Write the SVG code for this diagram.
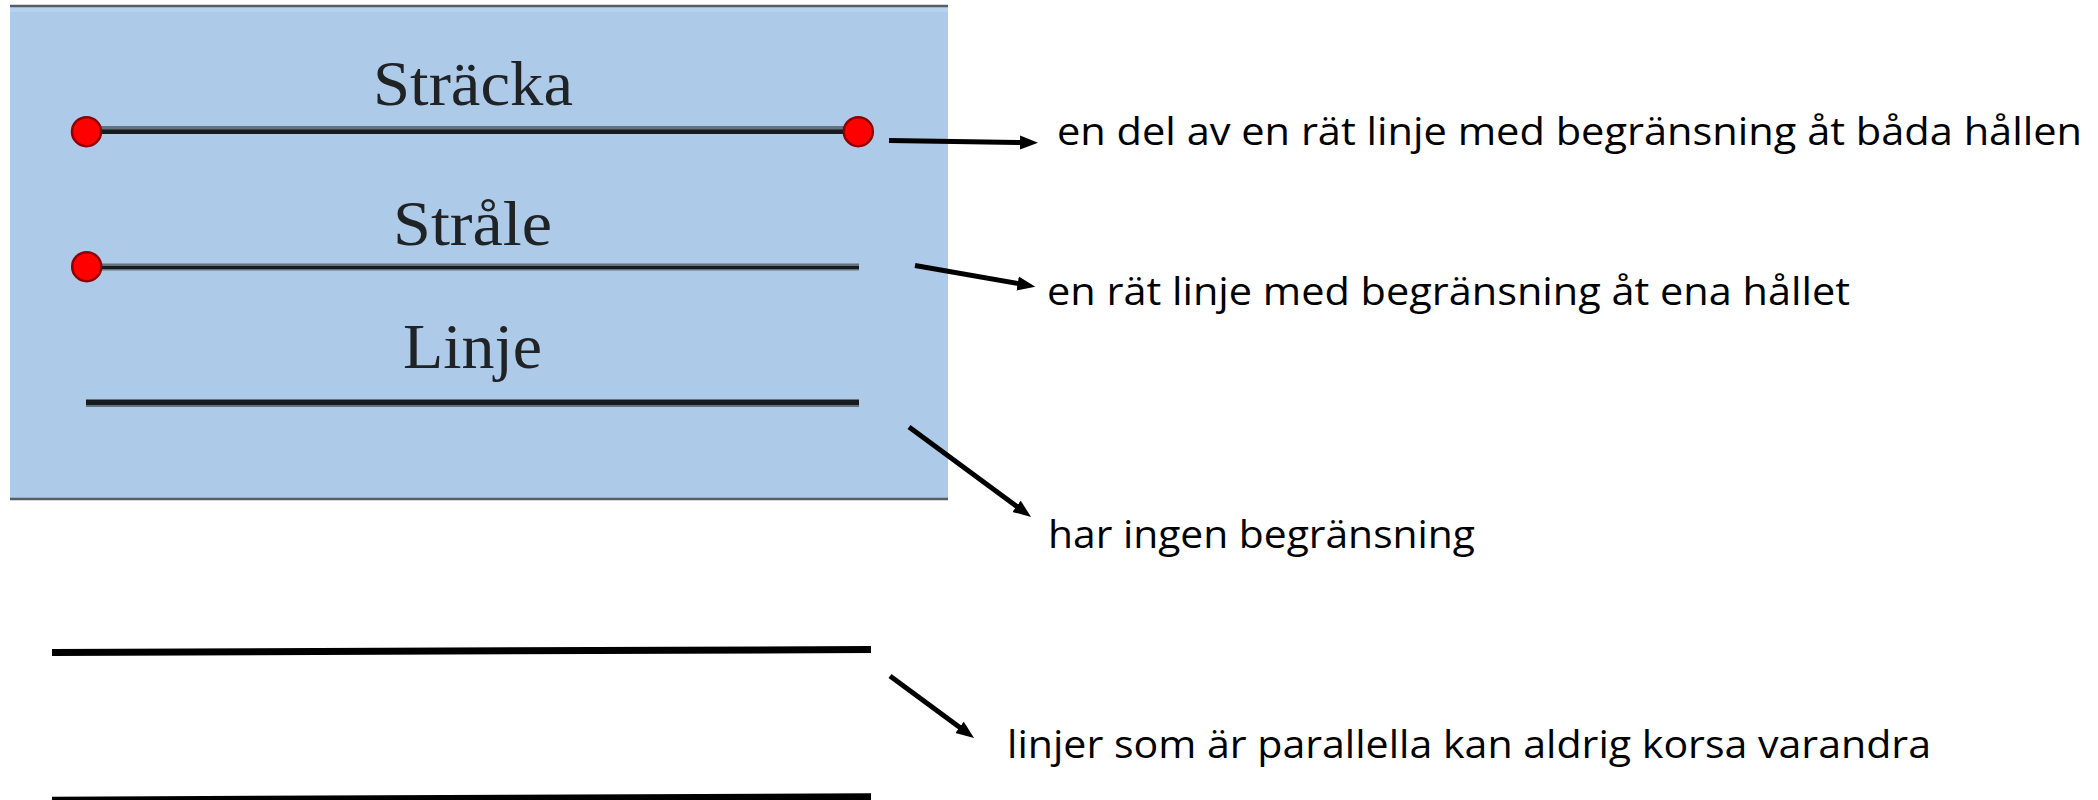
<svg xmlns="http://www.w3.org/2000/svg" width="2098" height="800" viewBox="0 0 2098 800">
  <style>
    .panel { fill: #adcbe8; }
    .edge { stroke: #595d62; stroke-width: 2.5; }
    .label { font-family: "Liberation Serif", "DejaVu Serif", serif; font-size: 64px; fill: #202326; }
    .note { font-family: "Open Sans", "Noto Sans", "Liberation Sans", sans-serif; font-size: 38px; fill: #000; }
    .halo { stroke: #66717d; fill: none; }
    .core { stroke: #161b20; fill: none; }
    .dot { fill: #ff0000; stroke: #8e0000; stroke-width: 2.5; }
    .arrow { stroke: #000; stroke-width: 5; fill: none; marker-end: url(#head); }
    .par { stroke: #000; stroke-width: 7; }
  </style>
  <defs>
    <marker id="head" markerUnits="userSpaceOnUse" markerWidth="19" markerHeight="15" refX="8" refY="7.5" orient="auto">
      <path d="M0,0.5 L18,7.5 L0,14.5 z" fill="#000"/>
    </marker>
  </defs>

  <rect width="2098" height="800" fill="#fff"/>

  <!-- blue panel with the three kinds of lines -->
  <g id="panel">
    <rect class="panel" x="10" y="6" width="938" height="493"/>
    <rect x="10" y="7" width="938" height="5" fill="#b4d3f0"/>
    <line class="edge" x1="10" y1="6" x2="948" y2="6"/>
    <line class="edge" x1="10" y1="499" x2="948" y2="499"/>
  </g>

  <g id="stracka">
    <text class="label" x="373" y="105" textLength="200" lengthAdjust="spacingAndGlyphs">Sträcka</text>
    <line class="halo" x1="86" y1="130" x2="858" y2="130" stroke-width="8"/>
    <line class="core" x1="86" y1="131.8" x2="858" y2="131.8" stroke-width="4.5"/>
    <circle class="dot" cx="86.5" cy="131.7" r="14.5"/>
    <circle class="dot" cx="858.3" cy="131.7" r="14.5"/>
  </g>

  <g id="strale">
    <text class="label" x="393" y="245" textLength="159" lengthAdjust="spacingAndGlyphs">Stråle</text>
    <line class="halo" x1="86" y1="267" x2="859" y2="267" stroke-width="7"/>
    <line class="core" x1="86" y1="267.5" x2="859" y2="267.5" stroke-width="3"/>
    <circle class="dot" cx="86.7" cy="266.7" r="14.5"/>
  </g>

  <g id="linje">
    <text class="label" x="403" y="368" textLength="139" lengthAdjust="spacingAndGlyphs">Linje</text>
    <line class="halo" x1="86" y1="403" x2="859" y2="403" stroke-width="8"/>
    <line class="core" x1="86" y1="402.5" x2="859" y2="402.5" stroke-width="5"/>
  </g>

  <!-- two parallel lines -->
  <g id="parallel">
    <line class="par" x1="52" y1="652.5" x2="871" y2="649.5"/>
    <line class="par" x1="52" y1="800.2" x2="871" y2="796.8"/>
  </g>

  <!-- explanations -->
  <g id="note-stracka">
    <text class="note" x="1057" y="145" textLength="1025" lengthAdjust="spacingAndGlyphs">en del av en rät linje med begränsning åt båda hållen</text>
  </g>
  <g id="note-strale">
    <text class="note" x="1047" y="305" textLength="803" lengthAdjust="spacingAndGlyphs">en rät linje med begränsning åt ena hållet</text>
  </g>
  <g id="note-linje">
    <text class="note" x="1048" y="548.3" textLength="427" lengthAdjust="spacingAndGlyphs">har ingen begränsning</text>
  </g>
  <g id="note-parallel">
    <text class="note" x="1007" y="758.3" textLength="924" lengthAdjust="spacingAndGlyphs">linjer som är parallella kan aldrig korsa varandra</text>
  </g>

  <g id="connectors">
    <line class="arrow" x1="889" y1="140.5" x2="1028" y2="142.6"/>
    <line class="arrow" x1="915" y1="265.5" x2="1025.5" y2="284.9"/>
    <line class="arrow" x1="909" y1="427" x2="1023" y2="511"/>
    <line class="arrow" x1="890" y1="676" x2="966" y2="732"/>
  </g>
</svg>
